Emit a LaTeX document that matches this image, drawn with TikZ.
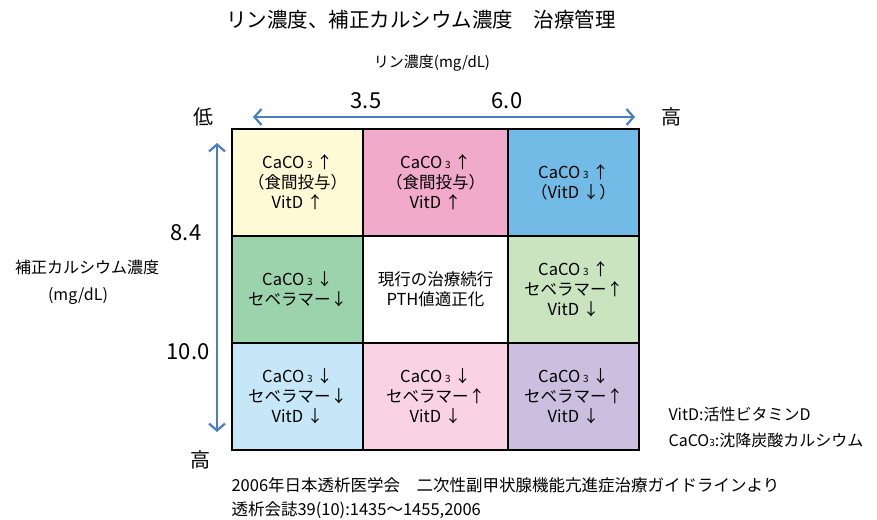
\documentclass[tikz,border=0pt]{standalone}
\usepackage{fontspec}
\setmainfont{Noto Sans CJK JP}
\usetikzlibrary{arrows.meta}
\definecolor{axisblue}{RGB}{74,126,191}
\definecolor{cyellow}{RGB}{255,250,214}
\definecolor{cpink}{RGB}{242,170,203}
\definecolor{cblue}{RGB}{114,187,230}
\definecolor{cgreen}{RGB}{155,212,172}
\definecolor{clgreen}{RGB}{201,228,190}
\definecolor{clblue}{RGB}{197,231,247}
\definecolor{clpink}{RGB}{249,211,228}
\definecolor{clav}{RGB}{203,191,223}
\newcommand{\three}{\,{\fontsize{10}{10}\selectfont 3}}
\tikzset{
    cell/.style={draw=black, line width=1.8pt, inner sep=0, outer sep=0, anchor=north west,
        minimum height=107pt, align=center, font=\fontsize{16.5}{20}\selectfont},
    axis/.style={draw=axisblue, line width=2.2pt,
        {Straight Barb[length=7pt,width=16pt]}-{Straight Barb[length=7pt,width=16pt]}},
    num/.style={font=\fontsize{22}{22}\selectfont},
    side/.style={font=\fontsize{20}{20}\selectfont},
    label/.style={font=\fontsize{16}{16}\selectfont},
    note/.style={font=\fontsize{16.5}{16.5}\selectfont, anchor=west}
}

\begin{document}
\begin{tikzpicture}[x=1pt, y=-1pt]
    \useasboundingbox (0,0) rectangle (877,519);
    % titles
    \node[font=\fontsize{20.5}{20.5}\selectfont] (title) at (421,20) {リン濃度、補正カルシウム濃度　治療管理};
    \node[label, font=\fontsize{15}{15}\selectfont] (rin) at (432,63) {リン濃度(mg/dL)};
    \node[label] (ca) at (87,267) {補正カルシウム濃度};
    \node[label] (caunit) at (78,296) {(mg/dL)};
    % grid
    \node[cell, fill=cyellow, minimum width=131pt] (c11) at (232,129) {CaCO\three{} ↑\\（食間投与）\\VitD ↑};
    \node[cell, fill=cpink, minimum width=145pt] (c12) at (363,129) {CaCO\three{} ↑\\（食間投与）\\VitD ↑};
    \node[cell, fill=cblue, minimum width=131pt] (c13) at (508,129) {CaCO\three{} ↑\\（VitD ↓）};
    \node[cell, fill=cgreen, minimum width=131pt] (c21) at (232,236) {CaCO\three{} ↓\\セベラマー↓};
    \node[cell, fill=white, minimum width=145pt] (c22) at (363,236) {現行の治療続行\\PTH値適正化};
    \node[cell, fill=clgreen, minimum width=131pt] (c23) at (508,236) {CaCO\three{} ↑\\セベラマー↑\\VitD ↓};
    \node[cell, fill=clblue, minimum width=131pt] (c31) at (232,343) {CaCO\three{} ↓\\セベラマー↓\\VitD ↓};
    \node[cell, fill=clpink, minimum width=145pt] (c32) at (363,343) {CaCO\three{} ↓\\セベラマー↑\\VitD ↓};
    \node[cell, fill=clav, minimum width=131pt] (c33) at (508,343) {CaCO\three{} ↓\\セベラマー↑\\VitD ↓};
    % axes
    \coordinate (pl) at (253,117);
    \coordinate (pr) at (635,117);
    \coordinate (ct) at (217,143);
    \coordinate (cb) at (217,432);
    \draw[axis] (pl) -- (pr);
    \draw[axis] (ct) -- (cb);
    \node[num] (p1) at (366,101) {3.5};
    \node[num] (p2) at (507,101) {6.0};
    \node[side] (plow) at (203,117) {低};
    \node[side] (phigh) at (671,117) {高};
    \node[num] (ca1) at (186,233) {8.4};
    \node[num] (ca2) at (188,352) {10.0};
    \node[side] (chigh) at (200,460) {高};
    % notes
    \node[note, font=\fontsize{16}{16}\selectfont] (n1) at (665,414) {VitD:活性ビタミンD};
    \node[note, font=\fontsize{16}{16}\selectfont] (n2) at (665,440) {CaCO{\fontsize{10}{10}\selectfont 3}:沈降炭酸カルシウム};
    \node[note] (src1) at (228,485) {2006年日本透析医学会　二次性副甲状腺機能亢進症治療ガイドラインより};
    \node[note] (src2) at (228,510) {透析会誌39(10):1435～1455,2006};
\end{tikzpicture}
\end{document}
